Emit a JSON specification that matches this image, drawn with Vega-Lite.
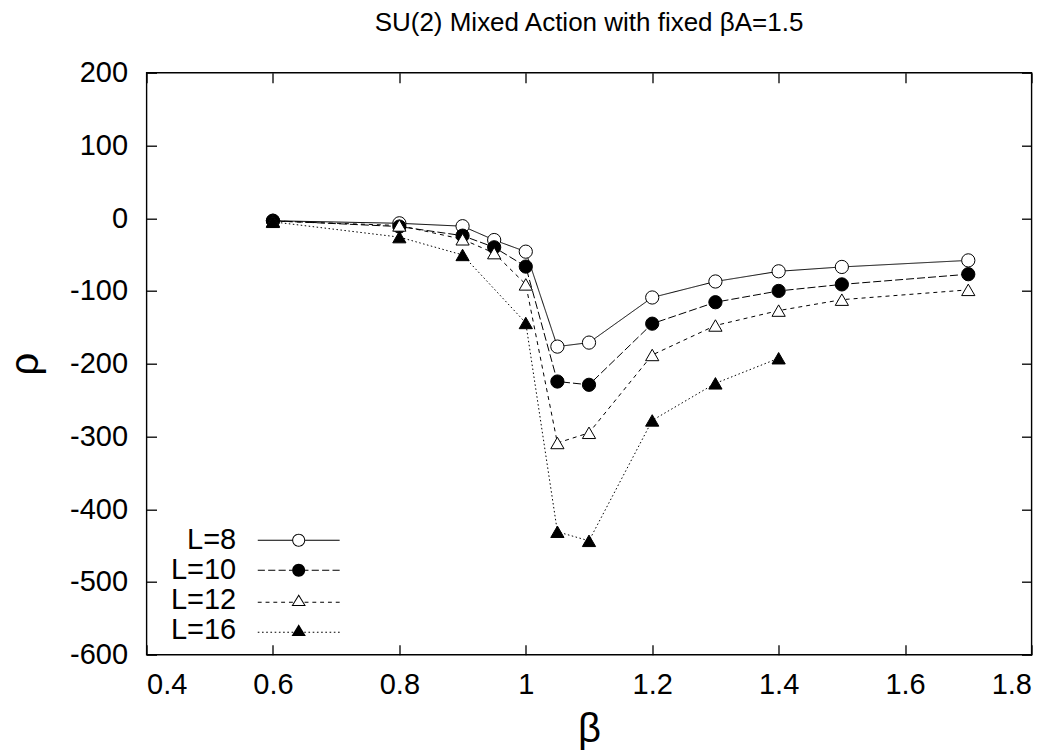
{
  "$schema": "https://vega.github.io/schema/vega-lite/v6.json",
  "width": 885,
  "height": 582,
  "autosize": {"type": "none"},
  "padding": {"left": 146.5, "top": 72.7, "right": 31, "bottom": 96},
  "background": "white",
  "title": {"text": "SU(2) Mixed Action with fixed βA=1.5", "font": "Liberation Sans", "fontSize": 26, "fontWeight": "normal", "color": "black", "anchor": "middle", "offset": 23},
  "config": {
    "view": {"stroke": "black", "strokeWidth": 1.4},
    "axis": {
      "grid": false, "domain": false, "ticks": true, "tickSize": -10, "tickColor": "black", "tickWidth": 1.3,
      "labelFont": "Liberation Sans", "labelFontSize": 29, "labelColor": "black",
      "titleFont": "Liberation Sans", "titleFontSize": 40, "titleFontWeight": "normal", "titleColor": "black"
    },
    "legend": {
      "orient": "none", "legendX": 137.7, "legendY": 453, "title": null, "direction": "vertical",
      "labelFont": "Liberation Sans", "labelFontSize": 29, "labelColor": "black",
      "labelAlign": "right", "labelOffset": -77, "symbolSize": 169, "symbolStrokeWidth": 0,
      "symbolOpacity": 1, "rowPadding": 0
    }
  },
  "data": {"values": [
    {"series": "L=8", "beta": 0.6, "rho": -3.5},
    {"series": "L=8", "beta": 0.8, "rho": -7},
    {"series": "L=8", "beta": 0.9, "rho": -11},
    {"series": "L=8", "beta": 0.95, "rho": -30},
    {"series": "L=8", "beta": 1.0, "rho": -46},
    {"series": "L=8", "beta": 1.05, "rho": -176.5},
    {"series": "L=8", "beta": 1.1, "rho": -171},
    {"series": "L=8", "beta": 1.2, "rho": -109},
    {"series": "L=8", "beta": 1.3, "rho": -87},
    {"series": "L=8", "beta": 1.4, "rho": -73},
    {"series": "L=8", "beta": 1.5, "rho": -67},
    {"series": "L=8", "beta": 1.7, "rho": -58},
    {"series": "L=10", "beta": 0.6, "rho": -3.5},
    {"series": "L=10", "beta": 0.8, "rho": -11.5},
    {"series": "L=10", "beta": 0.9, "rho": -24},
    {"series": "L=10", "beta": 0.95, "rho": -40},
    {"series": "L=10", "beta": 1.0, "rho": -66.5},
    {"series": "L=10", "beta": 1.05, "rho": -224.5},
    {"series": "L=10", "beta": 1.1, "rho": -229},
    {"series": "L=10", "beta": 1.2, "rho": -145},
    {"series": "L=10", "beta": 1.3, "rho": -115.5},
    {"series": "L=10", "beta": 1.4, "rho": -100},
    {"series": "L=10", "beta": 1.5, "rho": -91},
    {"series": "L=10", "beta": 1.7, "rho": -77},
    {"series": "L=12", "beta": 0.6, "rho": -4},
    {"series": "L=12", "beta": 0.8, "rho": -10},
    {"series": "L=12", "beta": 0.9, "rho": -29},
    {"series": "L=12", "beta": 0.95, "rho": -48},
    {"series": "L=12", "beta": 1.0, "rho": -91},
    {"series": "L=12", "beta": 1.05, "rho": -309},
    {"series": "L=12", "beta": 1.1, "rho": -295},
    {"series": "L=12", "beta": 1.2, "rho": -188},
    {"series": "L=12", "beta": 1.3, "rho": -147.5},
    {"series": "L=12", "beta": 1.4, "rho": -127},
    {"series": "L=12", "beta": 1.5, "rho": -112},
    {"series": "L=12", "beta": 1.7, "rho": -98.5},
    {"series": "L=16", "beta": 0.6, "rho": -5},
    {"series": "L=16", "beta": 0.8, "rho": -26},
    {"series": "L=16", "beta": 0.9, "rho": -50.5},
    {"series": "L=16", "beta": 1.0, "rho": -144},
    {"series": "L=16", "beta": 1.05, "rho": -431},
    {"series": "L=16", "beta": 1.1, "rho": -443.5},
    {"series": "L=16", "beta": 1.2, "rho": -278},
    {"series": "L=16", "beta": 1.3, "rho": -227},
    {"series": "L=16", "beta": 1.4, "rho": -192.5}
  ]},
  "layer": [
    {
      "mark": {"type": "line", "color": "black", "strokeWidth": 1},
      "encoding": {
        "x": {"field": "beta", "type": "quantitative", "title": "β",
          "scale": {"domain": [0.4, 1.8], "nice": false, "zero": false},
          "axis": {"orient": "bottom", "values": [0.4, 0.6, 0.8, 1, 1.2, 1.4, 1.6, 1.8], "labelExpr": "'' + datum.value", "labelPadding": 26, "titlePadding": 10}},
        "y": {"field": "rho", "type": "quantitative", "title": "ρ",
          "scale": {"domain": [-600, 200], "nice": false, "zero": false},
          "axis": {"orient": "left", "values": [-600, -500, -400, -300, -200, -100, 0, 100, 200], "labelExpr": "'' + datum.value", "labelPadding": 29, "titlePadding": 24}},
        "strokeDash": {"field": "series", "type": "nominal", "legend": null,
          "scale": {"domain": ["L=8", "L=10", "L=12", "L=16"], "range": [[1, 0], [8, 3], [4, 4], [1.5, 2.5]]}}
      }
    },
    {
      "mark": {"type": "point", "filled": false, "stroke": "black", "strokeWidth": 1, "opacity": 1},
      "encoding": {
        "x": {"field": "beta", "type": "quantitative",
          "axis": {"orient": "top", "values": [0.4, 0.6, 0.8, 1, 1.2, 1.4, 1.6, 1.8], "labels": false, "title": null}},
        "y": {"field": "rho", "type": "quantitative",
          "axis": {"orient": "right", "values": [-600, -500, -400, -300, -200, -100, 0, 100, 200], "labels": false, "title": null}},
        "shape": {"field": "series", "type": "nominal", "legend": null,
          "scale": {"domain": ["L=8", "L=10", "L=12", "L=16"], "range": ["circle", "circle", "triangle-up", "triangle-up"]}},
        "fill": {"field": "series", "type": "nominal", "legend": null,
          "scale": {"domain": ["L=8", "L=10", "L=12", "L=16"], "range": ["white", "black", "white", "black"]}},
        "size": {"field": "series", "type": "nominal", "legend": null,
          "scale": {"domain": ["L=8", "L=10", "L=12", "L=16"], "range": [175, 175, 220, 220]}}
      }
    },
    {
      "mark": {"type": "point", "filled": true, "opacity": 0},
      "encoding": {
        "x": {"field": "beta", "type": "quantitative", "axis": null},
        "y": {"field": "rho", "type": "quantitative", "axis": null},
        "shape": {"field": "series", "type": "nominal",
          "scale": {"domain": ["L=8", "L=10", "L=12", "L=16"], "range": [
            "M-1,0A1,1,0,1,1,1,0A1,1,0,1,1,-1,0ZM-0.85,0A0.85,0.85,0,1,0,0.85,0A0.85,0.85,0,1,0,-0.85,0ZM-6.3,-0.075H-1V0.075H-6.3ZM1,-0.075H6.3V0.075H1Z",
            "M-1,0A1,1,0,1,1,1,0A1,1,0,1,1,-1,0ZM-6.3,-0.075H-5.2V0.075H-6.3ZM-4.7,-0.075H-3.6V0.075H-4.7ZM-3.1,-0.075H-2V0.075H-3.1ZM-1.5,-0.075H-1V0.075H-1.5ZM1,-0.075H1.5V0.075H1ZM2,-0.075H3.1V0.075H2ZM3.6,-0.075H4.7V0.075H3.6ZM5.2,-0.075H6.3V0.075H5.2Z",
            "M0,-0.9L1.1,0.9L-1.1,0.9ZM0,-0.61L-0.83,0.75L0.83,0.75ZM-6.3,0.225H-5.7V0.375H-6.3ZM-5.1,0.225H-4.5V0.375H-5.1ZM-3.9,0.225H-3.3V0.375H-3.9ZM-2.7,0.225H-2.1V0.375H-2.7ZM-1.5,0.225H-0.9V0.375H-1.5ZM0.9,0.225H1.5V0.375H0.9ZM2.1,0.225H2.7V0.375H2.1ZM3.3,0.225H3.9V0.375H3.3ZM4.5,0.225H5.1V0.375H4.5ZM5.7,0.225H6.3V0.375H5.7Z",
            "M0,-0.9L1.1,0.9L-1.1,0.9ZM-6.3,0.225H-6.05V0.375H-6.3ZM-5.65,0.225H-5.4V0.375H-5.65ZM-5,0.225H-4.75V0.375H-5ZM-4.35,0.225H-4.1V0.375H-4.35ZM-3.7,0.225H-3.45V0.375H-3.7ZM-3.05,0.225H-2.8V0.375H-3.05ZM-2.4,0.225H-2.15V0.375H-2.4ZM-1.75,0.225H-1.5V0.375H-1.75ZM-1.1,0.225H-0.85V0.375H-1.1ZM0.85,0.225H1.1V0.375H0.85ZM1.5,0.225H1.75V0.375H1.5ZM2.15,0.225H2.4V0.375H2.15ZM2.8,0.225H3.05V0.375H2.8ZM3.45,0.225H3.7V0.375H3.45ZM4.1,0.225H4.35V0.375H4.1ZM4.75,0.225H5V0.375H4.75ZM5.4,0.225H5.65V0.375H5.4ZM6.05,0.225H6.3V0.375H6.05Z"
          ]}},
        "fill": {"field": "series", "type": "nominal",
          "scale": {"domain": ["L=8", "L=10", "L=12", "L=16"], "range": ["black", "black", "black", "black"]}}
      }
    }
  ],
  "resolve": {"axis": {"x": "independent", "y": "independent"}, "scale": {"shape": "independent", "fill": "independent"}}
}
